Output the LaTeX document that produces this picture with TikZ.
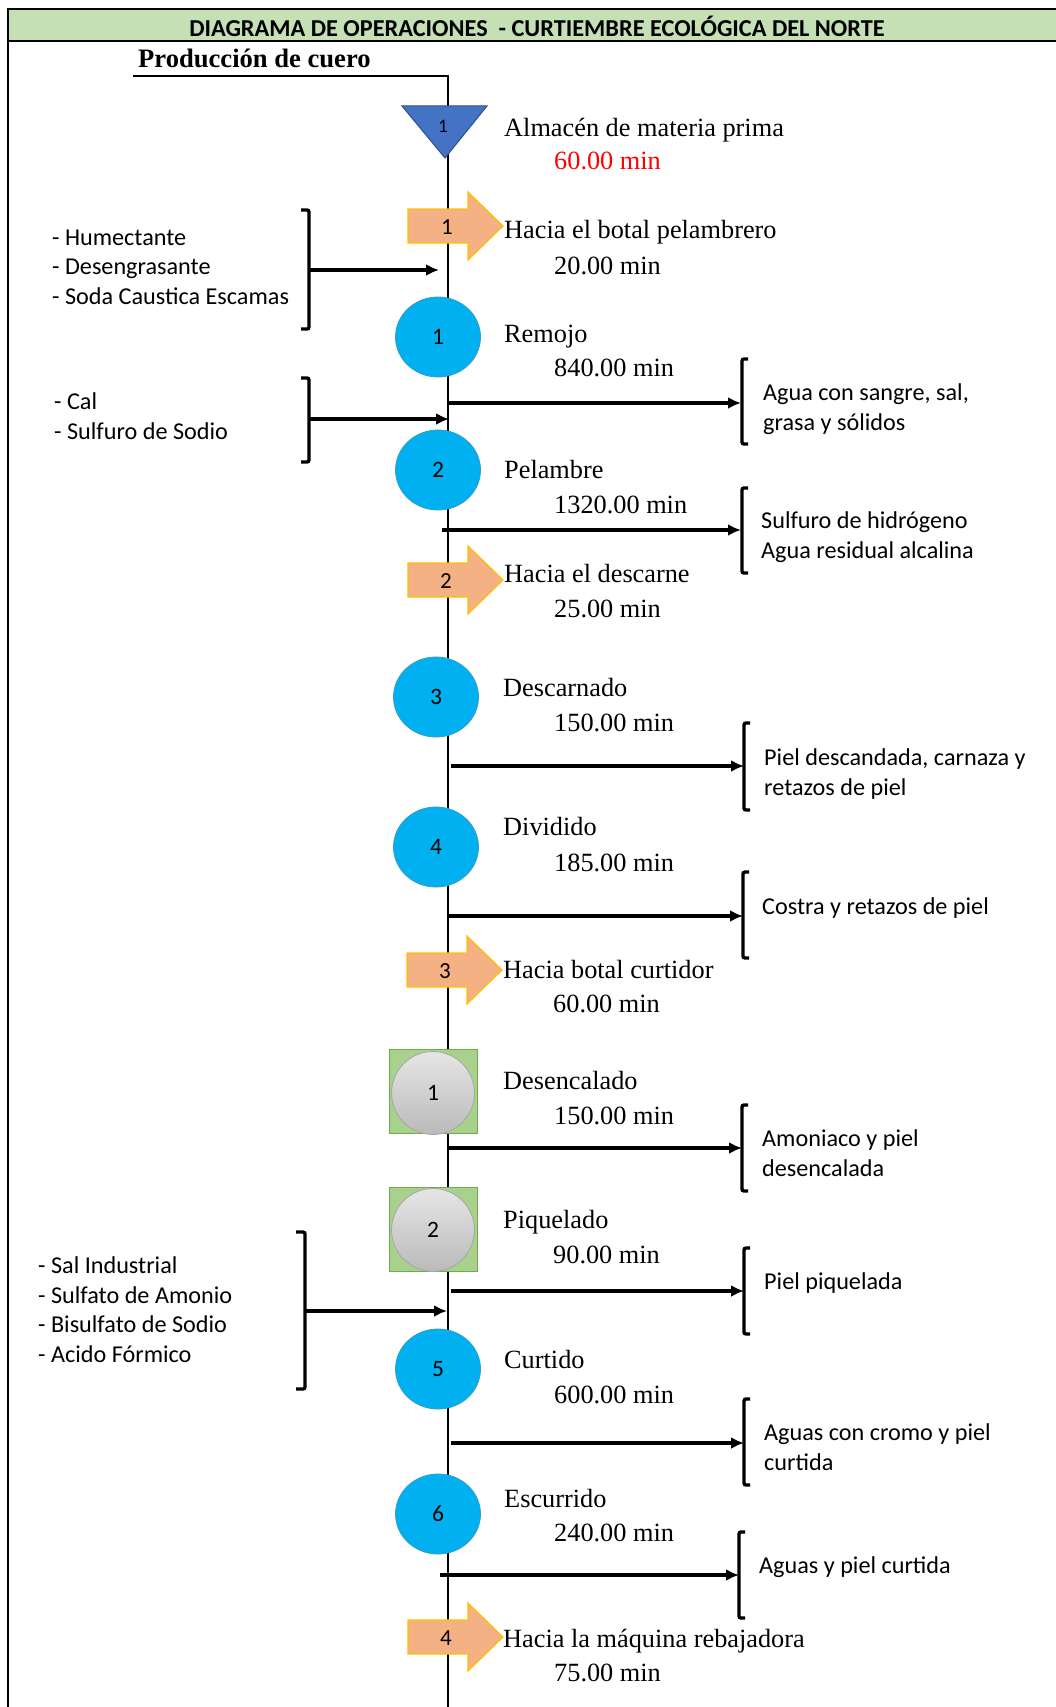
\documentclass[tikz,border=0pt]{standalone}
\usepackage{fontspec}
\setmainfont{Liberation Serif}
\newfontfamily\calibri{Carlito}
\usetikzlibrary{shapes.geometric, arrows.meta}
\definecolor{cian}{HTML}{00B0F0}
\definecolor{azul}{HTML}{4472C4}
\definecolor{naranja}{HTML}{F4B183}
\definecolor{oro}{HTML}{FFC000}
\definecolor{verde}{HTML}{A9D18E}
\definecolor{verdeborde}{HTML}{70AD47}
\definecolor{cabecera}{HTML}{C5E0B4}
\definecolor{rojo}{HTML}{FF0000}

\begin{document}
\begin{tikzpicture}[x=1pt,y=-1pt,
  linea/.style={line width=2pt},
  flecha/.style={line width=3.4pt,-{Latex[length=13pt,width=12pt]}},
  llave/.style={line width=3.4pt,rounded corners=2pt},
  op/.style={ellipse,fill=cian,draw=cian!60!gray,line width=0.8pt,minimum width=85pt,minimum height=80pt,inner sep=0pt,font=\calibri\fontsize{23.5}{26}\selectfont},
  insp/.style={circle,draw=black!35,line width=0.8pt,top color=black!10,bottom color=black!27,minimum size=83pt,inner sep=0pt,font=\calibri\fontsize{23.5}{26}\selectfont},
  caja/.style={rectangle,fill=verde,draw=verdeborde,line width=0.8pt,minimum width=88pt,minimum height=84pt},
  trans/.style={fill=naranja,draw=oro,line width=1.2pt},
  num/.style={font=\calibri\fontsize{23}{26}\selectfont},
  etiqueta/.style={anchor=base west,inner sep=0pt,font=\fontsize{26.3}{30}\selectfont},
  insumo/.style={anchor=base west,inner sep=0pt,align=left,font=\calibri\fontsize{24.2}{29.5}\selectfont}]

\useasboundingbox (0,0) rectangle (1055,1707);

% marco y titulo
\draw[line width=1.5pt,fill=cabecera] (8,9) rectangle (1070,41);
\draw[line width=1.5pt] (8,41) -- (8,1712);
\node[font=\calibri\bfseries\fontsize{24.3}{28}\selectfont] (titulo) at (537,26) {DIAGRAMA DE OPERACIONES \ - CURTIEMBRE ECOLÓGICA DEL NORTE};
\node[anchor=base west,inner sep=0pt,font=\bfseries\fontsize{26.6}{30}\selectfont] (prod) at (138,68) {Producción de cuero};
\coordinate (inicio) at (448,76);
\coordinate (fin) at (448,1712);
\draw[linea] (133,76) -- (inicio) -- (fin);

% almacen
\draw[fill=azul,draw=azul!70!black,line width=1pt] (402,106) -- (487,106) -- (445,158) -- cycle;
\node[font=\calibri\fontsize{19}{22}\selectfont] (a1) at (443,126) {1};
\node[etiqueta] (na1) at (504,137) {Almacén de materia prima};
\node[etiqueta,text=rojo] (ta1) at (554,170) {60.00 min};

% traslado 1
\draw[trans] (408,209) -- ++(60,0) -- ++(0,-17) -- ++(35,34) -- ++(-35,34) -- ++(0,-17) -- ++(-60,0) -- cycle;
\node[num] (t1) at (447,227) {1};
\node[etiqueta] (nt1) at (504,238) {Hacia el botal pelambrero};
\node[etiqueta] (tt1) at (554,274) {20.00 min};
\node[insumo] (in1) at (52,304) {- Humectante\\- Desengrasante\\- Soda Caustica Escamas};
\draw[llave] (301,210) -- (309,210) -- (309,329) -- (301,329);
\coordinate (e1) at (309,270);
\coordinate (f1) at (439,270);
\draw[flecha] (e1) -- (f1);

% remojo
\node[op] (o1) at (438,337) {1};
\node[etiqueta] (no1) at (504,342) {Remojo};
\node[etiqueta] (to1) at (554,376) {840.00 min};
\coordinate (s1) at (448,403);
\coordinate (r1) at (741,403);
\draw[flecha] (s1) -- (r1);
\draw[llave] (748,359) -- (742,359) -- (742,444) -- (748,444);
\node[insumo] (sa1) at (763,430) {Agua con sangre, sal,\\grasa y sólidos};
\node[insumo] (in2) at (54,439) {- Cal\\- Sulfuro de Sodio};
\draw[llave] (301,378) -- (309,378) -- (309,462) -- (301,462);
\coordinate (e2) at (309,419);
\coordinate (f2) at (449,419);
\draw[flecha] (e2) -- (f2);

% pelambre
\node[op] (o2) at (438,470) {2};
\node[etiqueta] (no2) at (504,478) {Pelambre};
\node[etiqueta] (to2) at (554,513) {1320.00 min};
\coordinate (s2) at (442,530);
\coordinate (r2) at (741,530);
\draw[flecha] (s2) -- (r2);
\draw[llave] (748,488) -- (742,488) -- (742,573) -- (748,573);
\node[insumo] (sa2) at (761,558) {Sulfuro de hidrógeno\\Agua residual alcalina};

% traslado 2
\draw[trans] (408,563) -- ++(60,0) -- ++(0,-17) -- ++(35,34) -- ++(-35,34) -- ++(0,-17) -- ++(-60,0) -- cycle;
\node[num] (t2) at (446,581) {2};
\node[etiqueta] (nt2) at (504,582) {Hacia el descarne};
\node[etiqueta] (tt2) at (554,617) {25.00 min};

% descarnado
\node[op] (o3) at (436,697) {3};
\node[etiqueta] (no3) at (503,696) {Descarnado};
\node[etiqueta] (to3) at (554,731) {150.00 min};
\coordinate (s3) at (451,766);
\coordinate (r3) at (744,766);
\draw[flecha] (s3) -- (r3);
\draw[llave] (750,723) -- (744,723) -- (744,810) -- (750,810);
\node[insumo] (sa3) at (764,795) {Piel descandada, carnaza y\\retazos de piel};

% dividido
\node[op] (o4) at (436,847) {4};
\node[etiqueta] (no4) at (503,835) {Dividido};
\node[etiqueta] (to4) at (554,871) {185.00 min};
\coordinate (s4) at (448,916);
\coordinate (r4) at (743,916);
\draw[flecha] (s4) -- (r4);
\draw[llave] (749,872) -- (743,872) -- (743,958) -- (749,958);
\node[insumo] (sa4) at (762,914) {Costra y retazos de piel};

% traslado 3
\draw[trans] (407,953) -- ++(60,0) -- ++(0,-17) -- ++(35,34) -- ++(-35,34) -- ++(0,-17) -- ++(-60,0) -- cycle;
\node[num] (t3) at (445,971) {3};
\node[etiqueta] (nt3) at (503,978) {Hacia botal curtidor};
\node[etiqueta] (tt3) at (553,1012) {60.00 min};

% desencalado
\node[caja] (c1) at (433,1091) {};
\node[insp] (i1) at (433,1093) {1};
\node[etiqueta] (ni1) at (503,1089) {Desencalado};
\node[etiqueta] (ti1) at (554,1124) {150.00 min};
\coordinate (s5) at (448,1148);
\coordinate (r5) at (742,1148);
\draw[flecha] (s5) -- (r5);
\draw[llave] (748,1105) -- (742,1105) -- (742,1191) -- (748,1191);
\node[insumo] (sa5) at (762,1176) {Amoniaco y piel\\desencalada};

% piquelado
\node[caja] (c2) at (433,1229) {};
\node[insp] (i2) at (433,1230) {2};
\node[etiqueta] (ni2) at (503,1228) {Piquelado};
\node[etiqueta] (ti2) at (553,1263) {90.00 min};
\coordinate (s6) at (451,1291);
\coordinate (r6) at (744,1291);
\draw[flecha] (s6) -- (r6);
\draw[llave] (750,1248) -- (744,1248) -- (744,1334) -- (750,1334);
\node[insumo] (sa6) at (764,1289) {Piel piquelada};
\node[insumo] (in3) at (38,1362) {- Sal Industrial\\- Sulfato de Amonio\\- Bisulfato de Sodio\\- Acido Fórmico};
\draw[llave] (296,1232) -- (305,1232) -- (305,1389) -- (296,1389);
\coordinate (e3) at (305,1311);
\coordinate (f3) at (447,1311);
\draw[flecha] (e3) -- (f3);

% curtido
\node[op] (o5) at (438,1369) {5};
\node[etiqueta] (no5) at (504,1368) {Curtido};
\node[etiqueta] (to5) at (554,1403) {600.00 min};
\coordinate (s7) at (451,1443);
\coordinate (r7) at (744,1443);
\draw[flecha] (s7) -- (r7);
\draw[llave] (750,1399) -- (744,1399) -- (744,1485) -- (750,1485);
\node[insumo] (sa7) at (764,1470) {Aguas con cromo y piel\\curtida};

% escurrido
\node[op] (o6) at (438,1514) {6};
\node[etiqueta] (no6) at (504,1507) {Escurrido};
\node[etiqueta] (to6) at (554,1541) {240.00 min};
\coordinate (s8) at (440,1575);
\coordinate (r8) at (739,1575);
\draw[flecha] (s8) -- (r8);
\draw[llave] (745,1532) -- (739,1532) -- (739,1618) -- (745,1618);
\node[insumo] (sa8) at (759,1573) {Aguas y piel curtida};

% traslado 4
\draw[trans] (408,1620) -- ++(60,0) -- ++(0,-17) -- ++(35,34) -- ++(-35,34) -- ++(0,-17) -- ++(-60,0) -- cycle;
\node[num] (t4) at (446,1638) {4};
\node[etiqueta] (nt4) at (503,1647) {Hacia la máquina rebajadora};
\node[etiqueta] (tt4) at (554,1681) {75.00 min};
\end{tikzpicture}
\end{document}
